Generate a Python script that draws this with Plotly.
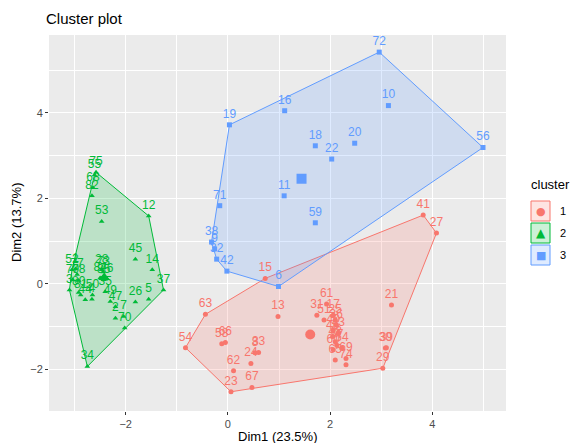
import plotly.graph_objects as go

# ---------------- data ----------------
c1_labels = ["8", "33", "13", "15", "21", "23", "24", "27", "29", "30", "39", "31", "41", "51",
             "54", "58", "61", "62", "63", "66", "67",
             "17", "25", "36", "40", "43", "46", "48", "57", "60", "64", "65", "69", "74"]
c1_x = [0.53, 0.60, 0.98, 0.73, 3.20, 0.06, 0.45, 4.08, 3.03, 3.08, 3.10, 1.74, 3.82, 1.88,
        -0.83, -0.12, 1.93, 0.11, -0.44, -0.05, 0.47,
        2.06, 2.10, 2.12, 2.06, 2.16, 2.05, 2.10, 2.13, 2.06, 2.23, 2.10, 2.31, 2.31]
c1_y = [-1.61, -1.60, -0.76, 0.13, -0.49, -2.52, -1.86, 1.19, -1.97, -1.50, -1.49, -0.73, 1.61, -0.84,
        -1.49, -1.40, -0.47, -2.03, -0.71, -1.37, -2.42,
        -0.73, -0.84, -0.96, -1.08, -1.15, -1.23, -1.35, -1.43, -1.54, -1.50, -1.78, -1.74, -1.89]

c2_labels = ["75", "55", "68", "82", "53", "12", "45", "14", "37", "5", "26", "70", "7", "49", "47",
             "2", "28", "73", "50", "35", "3", "44", "4", "34", "1", "52", "77", "78", "79", "80",
             "81", "84", "85", "76"]
c2_x = [-2.58, -2.61, -2.64, -2.66, -2.47, -1.55, -1.81, -1.48, -1.26, -1.55, -1.81, -2.02, -2.04, -2.30, -2.20,
        -2.20, -2.47, -2.44, -2.65, -2.40, -3.10, -2.79, -2.66, -2.75, -2.98, -3.05, -2.95, -2.92, -3.04, -2.92,
        -2.88, -2.50, -2.43, -2.37]
c2_y = [2.61, 2.55, 2.25, 2.06, 1.46, 1.59, 0.58, 0.33, -0.14, -0.36, -0.42, -1.03, -0.76, -0.41, -0.53,
        -0.80, 0.33, 0.28, -0.26, -0.18, -0.14, -0.37, -0.36, -1.93, 0.35, 0.33, 0.22, 0.08, 0.10, -0.20,
        -0.26, 0.14, 0.10, 0.12]

c3_labels = ["72", "10", "16", "19", "18", "20", "22", "56", "11", "71", "59", "38", "9", "32", "42", "6"]
c3_x = [2.96, 3.14, 1.11, 0.03, 1.71, 2.48, 2.03, 4.99, 1.10, -0.16, 1.71, -0.32, -0.26, -0.22, -0.02, 0.99]
c3_y = [5.42, 4.17, 4.05, 3.72, 3.23, 3.29, 2.92, 3.19, 2.06, 1.83, 1.43, 0.98, 0.82, 0.58, 0.30, -0.06]

centers_x = [1.61, -2.42, 1.44]
centers_y = [-1.18, 0.15, 2.46]

cluster_names = ["1", "2", "3"]
x_title = "Dim1 (23.5%)"
y_title = "Dim2 (13.7%)"
plot_title = "Cluster plot"
legend_title = "cluster"

# ---------------- style ----------------
colors = ["#F8766D", "#00BA38", "#619CFF"]
fills = ["rgba(248,118,109,0.2)", "rgba(0,186,56,0.2)", "rgba(97,156,255,0.2)"]
symbols = ["circle", "triangle-up", "square"]
glyphs = ["●", "▲", "■"]
FONT = "Liberation Sans, Arial, sans-serif"


def convex_hull(xs, ys):
    pts = sorted(set(zip(xs, ys)))
    if len(pts) < 3:
        return pts

    def cross(o, a, b):
        return (a[0] - o[0]) * (b[1] - o[1]) - (a[1] - o[1]) * (b[0] - o[0])

    lower, upper = [], []
    for p in pts:
        while len(lower) >= 2 and cross(lower[-2], lower[-1], p) <= 0:
            lower.pop()
        lower.append(p)
    for p in reversed(pts):
        while len(upper) >= 2 and cross(upper[-2], upper[-1], p) <= 0:
            upper.pop()
        upper.append(p)
    return lower[:-1] + upper[:-1]


clusters = [(c1_x, c1_y, c1_labels), (c2_x, c2_y, c2_labels), (c3_x, c3_y, c3_labels)]

fig = go.Figure()

# hulls
for i, (xs, ys, _) in enumerate(clusters):
    h = convex_hull(xs, ys)
    hx = [p[0] for p in h] + [h[0][0]]
    hy = [p[1] for p in h] + [h[0][1]]
    fig.add_trace(go.Scatter(x=hx, y=hy, mode="lines", fill="toself",
                             fillcolor=fills[i], line=dict(color=colors[i], width=1),
                             hoverinfo="skip", showlegend=False))

# points + labels
for i, (xs, ys, labs) in enumerate(clusters):
    fig.add_trace(go.Scatter(x=xs, y=ys, mode="markers+text", text=labs,
                             textposition="top center",
                             textfont=dict(color=colors[i], size=12, family=FONT),
                             marker=dict(color=colors[i], symbol=symbols[i], size=5, line=dict(width=0)),
                             showlegend=False))

# centroids
for i in range(3):
    fig.add_trace(go.Scatter(x=[centers_x[i]], y=[centers_y[i]], mode="markers",
                             marker=dict(color=colors[i], symbol=symbols[i], size=10, line=dict(width=0)),
                             showlegend=False))

W, H = 571, 443
ML, MR, MT, MB = 49, 65, 35, 32
PW, PH = W - ML - MR, H - MT - MB


def px(xp):
    return (xp - ML) / PW


def py(yp):
    return (H - MB - yp) / PH


annotations = [
    dict(text=plot_title, x=px(44), y=py(19), xref="paper", yref="paper", xanchor="left",
         yanchor="middle", showarrow=False, font=dict(size=15, color="black", family=FONT)),
    dict(text=x_title, x=0.5, y=py(436), xref="paper", yref="paper", xanchor="center",
         yanchor="middle", showarrow=False, font=dict(size=13, color="black", family=FONT)),
    dict(text=y_title, x=px(16), y=0.5, xref="paper", yref="paper", xanchor="center",
         yanchor="middle", showarrow=False, textangle=-90, font=dict(size=13, color="black", family=FONT)),
    dict(text=legend_title, x=px(529), y=py(184), xref="paper", yref="paper", xanchor="left",
         yanchor="middle", showarrow=False, font=dict(size=13, color="black", family=FONT)),
]
shapes = []
for i in range(3):
    cy = 211 + 22 * i
    shapes.append(dict(type="rect", xref="paper", yref="paper",
                       x0=px(531), x1=px(550), y0=py(cy - 10), y1=py(cy + 10),
                       fillcolor=fills[i], line=dict(color=colors[i], width=1)))
    annotations.append(dict(text=glyphs[i], x=px(540.5), y=py(cy), xref="paper", yref="paper",
                            xanchor="center", yanchor="middle", showarrow=False,
                            font=dict(size=11 if i != 1 else 12, color=colors[i], family="DejaVu Sans")))
    annotations.append(dict(text=cluster_names[i], x=px(558), y=py(cy), xref="paper", yref="paper",
                            xanchor="left", yanchor="middle", showarrow=False,
                            font=dict(size=11, color="black", family=FONT)))

axis_common = dict(showline=False, zeroline=False, gridcolor="white", gridwidth=1.1,
                   ticks="outside", ticklen=3, tickcolor="#333333", tickwidth=1,
                   tickfont=dict(size=11, color="#4D4D4D", family=FONT),
                   minor=dict(dtick=1, showgrid=True, gridcolor="white", gridwidth=0.5, ticks=""))

fig.update_layout(
    width=W, height=H,
    margin=dict(l=ML, r=MR, t=MT, b=MB),
    paper_bgcolor="white", plot_bgcolor="#EBEBEB",
    showlegend=False,
    font=dict(family=FONT),
    xaxis=dict(range=[-3.50, 5.44], tick0=0, dtick=2, **axis_common),
    yaxis=dict(range=[-2.97, 5.82], tick0=0, dtick=2, **axis_common),
    annotations=annotations, shapes=shapes,
)

fig.write_html("out.html")
